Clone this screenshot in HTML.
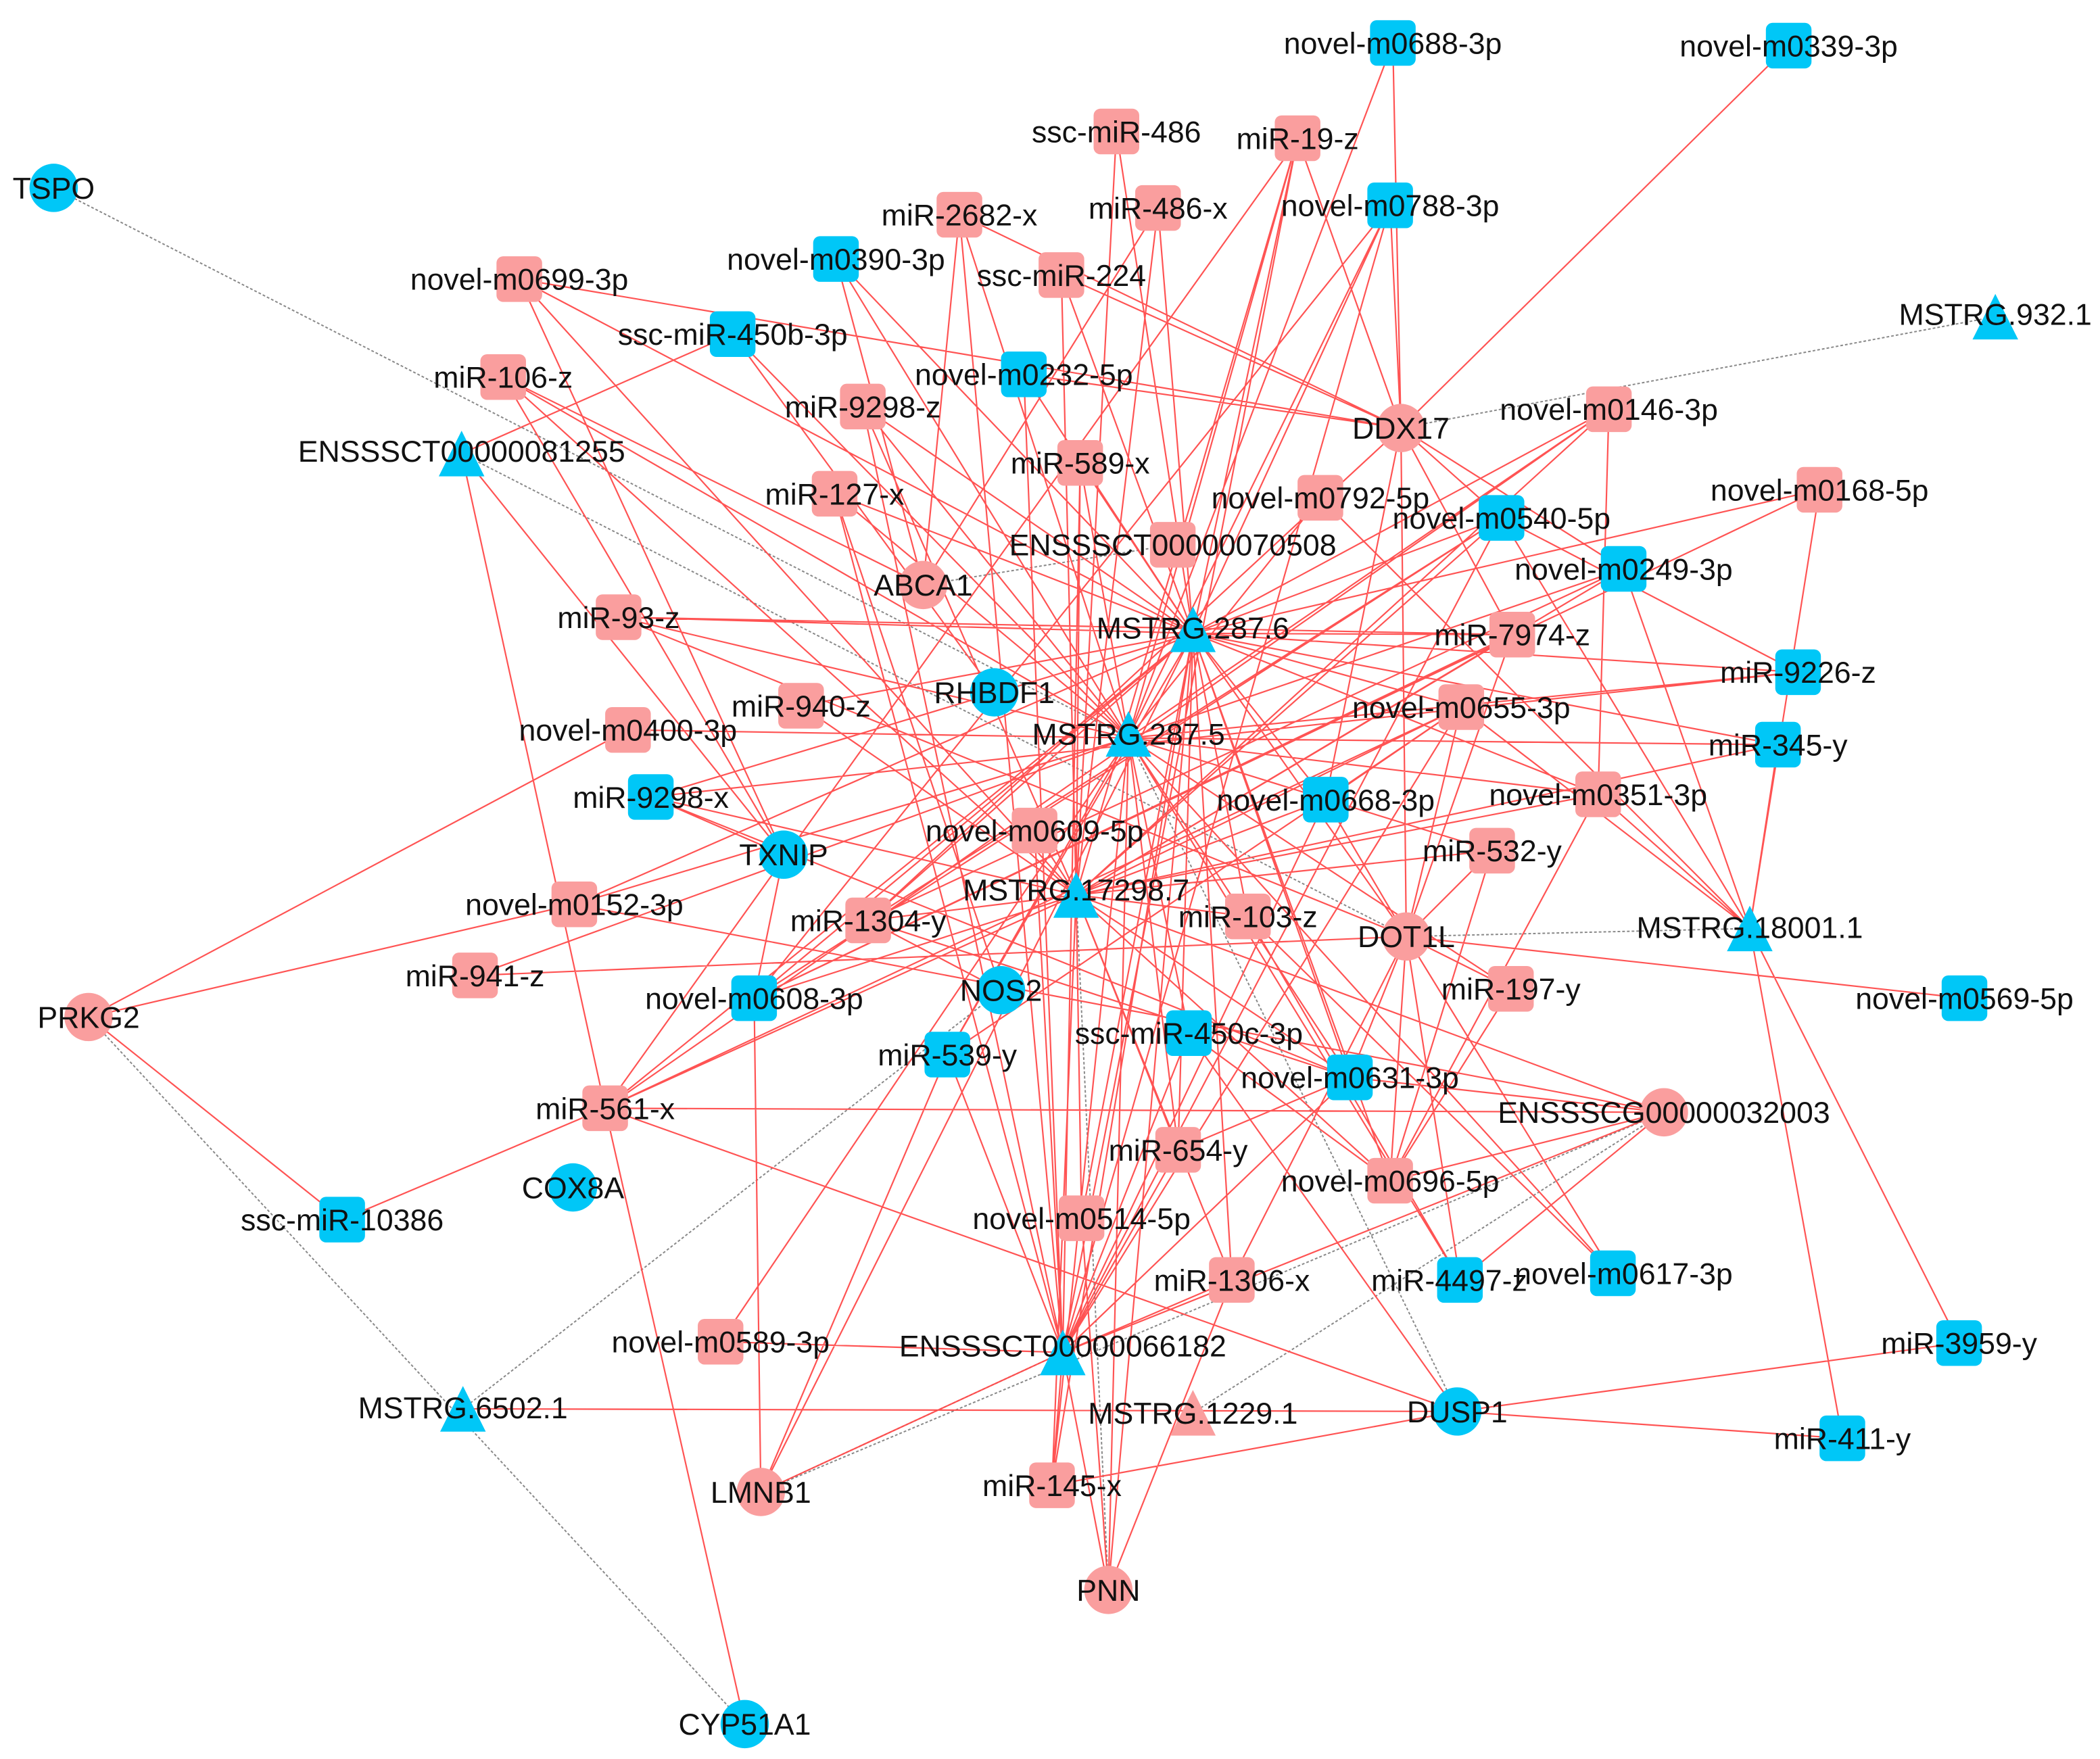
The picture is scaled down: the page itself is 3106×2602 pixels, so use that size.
<!DOCTYPE html>
<html><head><meta charset="utf-8"><style>
html,body{margin:0;padding:0;background:#fff}
svg{display:block}
text{font-family:"Liberation Sans",Arial,sans-serif;font-size:22.5px;fill:#111;text-anchor:middle}
</style></head><body>
<svg width="3106" height="2602" viewBox="0 0 1565 1311" xmlns="http://www.w3.org/2000/svg">
<rect width="1565" height="1311" fill="#fff"/>
<g stroke="#888" stroke-width="1" stroke-dasharray="2,1.5" fill="none">
<path d="M40 140L841 550M1487 236L1044 319M688 436L874 406M344 338L1048 698M1048 698L1304 692M66 758L555 1285M345 1050L746 738M567 1112L1240 829M889 1053L1240 829M826 1185L802 667M1086 1052L841 550M567 1112L792 1008"/>
</g>
<g stroke="#ff4a4a" stroke-width="1.1" fill="none" opacity="0.95">
<path d="
M889 472L387 208M889 472L967 103M889 472L1036 153M889 472L832 98M889 472L863 155M889 472L791 205M889 472L763 279M889 472L643 303M889 472L805 345M889 472L1199 305M889 472L1119 386M889 472L1356 365M889 472L461 460M889 472L1127 473M889 472L597 526M889 472L1089 527M889 472L485 594M889 472L988 596M889 472L647 686M889 472L930 683M889 472L562 744M889 472L451 826M889 472L878 857M889 472L1006 803M889 472L806 908M889 472L918 954M889 472L567 1112M889 472L826 1185M889 472L1048 698M889 472L1036 880M889 472L622 368M889 472L623 193M889 472L428 674
M841 550L375 281M841 550L546 249M841 550L623 193M841 550L715 160M841 550L967 103M841 550L1036 153M841 550L984 371M841 550L1210 424M841 550L1340 501M841 550L1325 555M841 550L1191 592M841 550L1112 634M841 550L468 544M841 550L428 674M841 550L354 727M841 550L706 786M841 550L886 770M841 550L1126 737M841 550L1202 949M841 550L1088 954M841 550L784 1107M841 550L537 1000M841 550L622 368M841 550L461 460M841 550L826 1185M841 550L1038 32M841 550L1199 305
M802 667L387 208M802 667L375 281M802 667L643 303M802 667L791 205M802 667L832 98M802 667L863 155M802 667L805 345M802 667L1199 305M802 667L1119 386M802 667L1127 473M802 667L1089 527M802 667L1191 592M802 667L1112 634M802 667L485 594M802 667L771 619M802 667L647 686M802 667L451 826M802 667L562 744M802 667L878 857M802 667L806 908M802 667L1240 829M802 667L918 954M802 667L784 1107M802 667L1036 880M802 667L597 526M802 667L967 103M802 667L1210 424
M792 1008L537 1000M345 1050L1086 1052M792 1008L567 1112M792 1008L763 279M792 1008L805 345M792 1008L771 619M792 1008L706 786M792 1008L886 770M792 1008L988 596M792 1008L878 857M792 1008L918 954M792 1008L784 1107M792 1008L826 1185M792 1008L1240 829M792 1008L715 160M792 1008L643 303M792 1008L622 368M792 1008L1036 153
M1048 698L1464 744M1048 698L1126 737M1048 698L1006 803M1048 698L1088 954M1048 698L918 954M1048 698L1202 949M1048 698L461 460M1048 698L354 727M1048 698L1112 634M1048 698L988 596M1048 698L1089 527M1048 698L1127 473M1048 698L1044 319M1048 698L1036 880
M1044 319L1038 32M1044 319L1333 34M1044 319L1036 153M1044 319L967 103M1044 319L791 205M1044 319L763 279M1044 319L715 160M1044 319L387 208M1044 319L1119 386M1044 319L1127 473M1044 319L1210 424M1044 319L988 596M1044 319L647 686
M1304 692L1356 365M1304 692L1325 555M1304 692L1210 424M1304 692L1460 1001M1304 692L1373 1072M1304 692L984 371M1304 692L1191 592M1304 692L1089 527M1304 692L1119 386
M344 338L584 637M344 338L451 826M344 338L546 249M66 758L468 544M66 758L428 674M66 758L255 909M255 909L451 826M555 1285L451 826
M567 1112L562 744M567 1112L706 786M826 1185L806 908M826 1185L918 954M1086 1052L1460 1001M1086 1052L1373 1072M1086 1052L886 770M784 1107L1086 1052M451 826L1086 1052
M1240 829L1036 880M1240 829L1088 954M1240 829L1006 803M1240 829L428 674M1240 829L451 826M584 637L375 281M584 637L387 208M584 637L485 594M584 637L562 744M746 738L647 686M746 738L622 368M688 436L375 281M688 436L623 193M688 436L715 160M688 436L863 155M741 516L546 249
M451 826L968 103M562 744L1036 153M451 826L1199 305M562 744L1119 386M647 686L1006 803M485 594L1006 803M461 460L1127 473M354 727L1048 698M1126 737L1036 880M1112 634L1036 880M930 683L1202 949M930 683L1088 954M886 770L1036 880M1006 803L878 857M1191 592L1036 880M1356 365L562 744M1210 424L647 686M1199 305L1191 592M1340 501L1119 386M706 786L1089 527M988 596L1089 527
M889 472L784 1107M889 472L706 786M889 472L1340 501M889 472L1325 555M889 472L1191 592M841 550L643 303M841 550L805 345M841 550L878 857M841 550L1006 803M802 667L1325 555M802 667L988 596M802 667L930 683M802 667L1006 803M792 1008L1119 386M792 1008L1089 527M792 1008L967 103M792 1008L1006 803M647 686L1119 386M562 744L1127 473M451 826L1089 527M485 594L1340 501
"/>
</g>
<g fill="#fa9e9e">
<rect x="815" y="81" width="34" height="34" rx="5"/><rect x="950" y="86" width="34" height="34" rx="5"/><rect x="698" y="143" width="34" height="34" rx="5"/><rect x="846" y="138" width="34" height="34" rx="5"/><rect x="774" y="188" width="34" height="34" rx="5"/><rect x="370" y="191" width="34" height="34" rx="5"/><rect x="358" y="264" width="34" height="34" rx="5"/><rect x="626" y="286" width="34" height="34" rx="5"/><rect x="788" y="328" width="34" height="34" rx="5"/><rect x="1182" y="288" width="34" height="34" rx="5"/><rect x="605" y="351" width="34" height="34" rx="5"/><rect x="967" y="354" width="34" height="34" rx="5"/><rect x="1339" y="348" width="34" height="34" rx="5"/><rect x="857" y="389" width="34" height="34" rx="5"/><rect x="444" y="443" width="34" height="34" rx="5"/><rect x="1110" y="456" width="34" height="34" rx="5"/><rect x="580" y="509" width="34" height="34" rx="5"/><rect x="1072" y="510" width="34" height="34" rx="5"/><rect x="451" y="527" width="34" height="34" rx="5"/><rect x="1174" y="575" width="34" height="34" rx="5"/><rect x="754" y="602" width="34" height="34" rx="5"/><rect x="1095" y="617" width="34" height="34" rx="5"/><rect x="411" y="657" width="34" height="34" rx="5"/><rect x="630" y="669" width="34" height="34" rx="5"/><rect x="913" y="666" width="34" height="34" rx="5"/><rect x="337" y="710" width="34" height="34" rx="5"/><rect x="1109" y="720" width="34" height="34" rx="5"/><rect x="434" y="809" width="34" height="34" rx="5"/><rect x="861" y="840" width="34" height="34" rx="5"/><rect x="1019" y="863" width="34" height="34" rx="5"/><rect x="789" y="891" width="34" height="34" rx="5"/><rect x="901" y="937" width="34" height="34" rx="5"/><rect x="520" y="983" width="34" height="34" rx="5"/><rect x="767" y="1090" width="34" height="34" rx="5"/>
<circle cx="1044" cy="319" r="18"/><circle cx="688" cy="436" r="18"/><circle cx="1048" cy="698" r="18"/><circle cx="66" cy="758" r="18"/><circle cx="1240" cy="829" r="18"/><circle cx="567" cy="1112" r="18"/><circle cx="826" cy="1185" r="18"/>
<polygon points="889,1036 872,1070 906,1070"/>
</g>
<g fill="#00c7f7">
<rect x="1021" y="15" width="34" height="34" rx="5"/><rect x="1316" y="17" width="34" height="34" rx="5"/><rect x="1019" y="136" width="34" height="34" rx="5"/><rect x="606" y="176" width="34" height="34" rx="5"/><rect x="529" y="232" width="34" height="34" rx="5"/><rect x="746" y="262" width="34" height="34" rx="5"/><rect x="1102" y="369" width="34" height="34" rx="5"/><rect x="1193" y="407" width="34" height="34" rx="5"/><rect x="1323" y="484" width="34" height="34" rx="5"/><rect x="1308" y="538" width="34" height="34" rx="5"/><rect x="971" y="579" width="34" height="34" rx="5"/><rect x="468" y="577" width="34" height="34" rx="5"/><rect x="545" y="727" width="34" height="34" rx="5"/><rect x="869" y="753" width="34" height="34" rx="5"/><rect x="689" y="769" width="34" height="34" rx="5"/><rect x="989" y="786" width="34" height="34" rx="5"/><rect x="238" y="892" width="34" height="34" rx="5"/><rect x="1071" y="937" width="34" height="34" rx="5"/><rect x="1185" y="932" width="34" height="34" rx="5"/><rect x="1443" y="984" width="34" height="34" rx="5"/><rect x="1356" y="1055" width="34" height="34" rx="5"/><rect x="1447" y="727" width="34" height="34" rx="5"/>
<circle cx="40" cy="140" r="18"/><circle cx="741" cy="516" r="18"/><circle cx="584" cy="637" r="18"/><circle cx="746" cy="738" r="18"/><circle cx="427" cy="885" r="18"/><circle cx="1086" cy="1052" r="18"/><circle cx="555" cy="1285" r="18"/>
<polygon points="1487,219 1470,253 1504,253"/><polygon points="344,321 327,355 361,355"/><polygon points="889,452 872,486 906,486"/><polygon points="841,530 824,564 858,564"/><polygon points="802,650 785,684 819,684"/><polygon points="1304,675 1287,709 1321,709"/><polygon points="792,991 775,1025 809,1025"/><polygon points="345,1033 328,1067 362,1067"/>
</g>
<g>
<text x="1038" y="40">novel-m0688-3p</text><text x="1333" y="42">novel-m0339-3p</text><text x="1036" y="161">novel-m0788-3p</text><text x="623" y="201">novel-m0390-3p</text><text x="546" y="257">ssc-miR-450b-3p</text><text x="763" y="287">novel-m0232-5p</text><text x="1119" y="394">novel-m0540-5p</text><text x="1210" y="432">novel-m0249-3p</text><text x="1340" y="509">miR-9226-z</text><text x="1325" y="563">miR-345-y</text><text x="988" y="604">novel-m0668-3p</text><text x="485" y="602">miR-9298-x</text><text x="562" y="752">novel-m0608-3p</text><text x="886" y="778">ssc-miR-450c-3p</text><text x="706" y="794">miR-539-y</text><text x="1006" y="811">novel-m0631-3p</text><text x="255" y="917">ssc-miR-10386</text><text x="1080" y="962">miR-4497-z</text><text x="1210" y="957">novel-m0617-3p</text><text x="1460" y="1009">miR-3959-y</text><text x="1373" y="1080">miR-411-y</text><text x="1464" y="752">novel-m0569-5p</text>
<text x="832" y="106">ssc-miR-486</text><text x="967" y="111">miR-19-z</text><text x="715" y="168">miR-2682-x</text><text x="863" y="163">miR-486-x</text><text x="791" y="213">ssc-miR-224</text><text x="387" y="216">novel-m0699-3p</text><text x="375" y="289">miR-106-z</text><text x="643" y="311">miR-9298-z</text><text x="805" y="353">miR-589-x</text><text x="1199" y="313">novel-m0146-3p</text><text x="622" y="376">miR-127-x</text><text x="984" y="379">novel-m0792-5p</text><text x="1356" y="373">novel-m0168-5p</text><text x="874" y="414">ENSSSCT00000070508</text><text x="461" y="468">miR-93-z</text><text x="1127" y="481">miR-7974-z</text><text x="597" y="534">miR-940-z</text><text x="1089" y="535">novel-m0655-3p</text><text x="468" y="552">novel-m0400-3p</text><text x="1191" y="600">novel-m0351-3p</text><text x="771" y="627">novel-m0609-5p</text><text x="1112" y="642">miR-532-y</text><text x="428" y="682">novel-m0152-3p</text><text x="647" y="694">miR-1304-y</text><text x="930" y="691">miR-103-z</text><text x="354" y="735">miR-941-z</text><text x="1126" y="745">miR-197-y</text><text x="451" y="834">miR-561-x</text><text x="878" y="865">miR-654-y</text><text x="1036" y="888">novel-m0696-5p</text><text x="806" y="916">novel-m0514-5p</text><text x="918" y="962">miR-1306-x</text><text x="537" y="1008">novel-m0589-3p</text><text x="784" y="1115">miR-145-x</text>
<text x="40" y="148">TSPO</text><text x="741" y="524">RHBDF1</text><text x="584" y="645">TXNIP</text><text x="746" y="746">NOS2</text><text x="427" y="893">COX8A</text><text x="1086" y="1060">DUSP1</text><text x="555" y="1293">CYP51A1</text>
<text x="1044" y="327">DDX17</text><text x="688" y="444">ABCA1</text><text x="1048" y="706">DOT1L</text><text x="66" y="766">PRKG2</text><text x="1240" y="837">ENSSSCG00000032003</text><text x="567" y="1120">LMNB1</text><text x="826" y="1193">PNN</text>
<text x="1487" y="242">MSTRG.932.1</text><text x="344" y="344">ENSSSCT00000081255</text><text x="889" y="476">MSTRG.287.6</text><text x="841" y="555">MSTRG.287.5</text><text x="802" y="671">MSTRG.17298.7</text><text x="1304" y="699">MSTRG.18001.1</text><text x="792" y="1011">ENSSSCT00000066182</text><text x="345" y="1057">MSTRG.6502.1</text><text x="889" y="1061">MSTRG.1229.1</text>
</g>
</svg>
</body></html>
